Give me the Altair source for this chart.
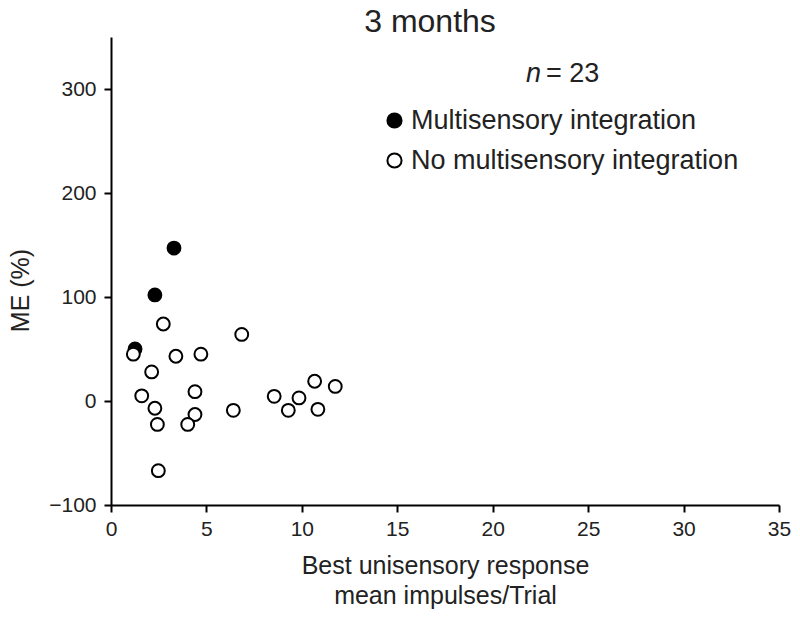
import altair as alt
import pandas as pd

# Data
filled_x = [3.30, 2.30, 1.26]
filled_y = [147, 102, 50]
open_x = [1.17, 2.74, 3.40, 4.71, 6.85, 2.13, 1.61, 4.40, 8.55, 2.30,
          4.40, 6.41, 2.43, 4.02, 2.48, 9.29, 9.85, 10.67, 10.84, 11.75]
open_y = [45, 74, 43, 45, 64, 28, 5, 9, 4.5, -7,
          -13, -9, -22.5, -22.5, -67, -9, 3, 19, -8, 14]
groups = ["Multisensory integration", "No multisensory integration"]
x_ticks = [0, 5, 10, 15, 20, 25, 30, 35]
y_ticks = [-100, 0, 100, 200, 300]

rows = [{"x": a, "y": b, "group": groups[0]} for a, b in zip(filled_x, filled_y)]
rows += [{"x": a, "y": b, "group": groups[1]} for a, b in zip(open_x, open_y)]
df = pd.DataFrame(rows)

FONT = "Liberation Sans"

points = alt.Chart(df).mark_point(
    shape="circle", filled=True, size=165, stroke="black", strokeWidth=2, opacity=1
).encode(
    x=alt.X("x:Q", scale=alt.Scale(domain=[0, 35], nice=False),
            axis=alt.Axis(values=x_ticks, title=["Best unisensory response", "mean impulses/Trial"],
                          titlePadding=14, titleLineHeight=30, labelPadding=6)),
    y=alt.Y("y:Q", scale=alt.Scale(domain=[-100, 350], nice=False),
            axis=alt.Axis(values=y_ticks, title="ME (%)", titleX=-83, titleY=253,
                          titleAngle=270, titleAlign="center", titleBaseline="alphabetic",
                          labelPadding=8)),
    fill=alt.Fill("group:N", scale=alt.Scale(domain=groups, range=["black", "white"]),
                  legend=alt.Legend(title=None, orient="none", legendX=270, legendY=70,
                                    symbolType="circle", symbolSize=200,
                                    symbolStrokeColor="black", symbolStrokeWidth=2,
                                    labelFontSize=27, labelFont=FONT, labelColor="#222",
                                    rowPadding=12, labelOffset=3, padding=0,
                                    labelLimit=500)),
    order=alt.Order("group:N"),
)

n_label = alt.Chart(pd.DataFrame({"t": ["n"]})).mark_text(
    font=FONT, fontSize=27, fontStyle="italic", align="left", baseline="alphabetic", color="#222"
).encode(x=alt.value(415), y=alt.value(45), text="t:N")

n_value = alt.Chart(pd.DataFrame({"t": ["= 23"]})).mark_text(
    font=FONT, fontSize=27, align="left", baseline="alphabetic", color="#222"
).encode(x=alt.value(435), y=alt.value(45), text="t:N")

chart = alt.layer(points, n_label, n_value).properties(
    width=668, height=468,
    title=alt.TitleParams("3 months", fontSize=32, font=FONT, fontWeight="normal",
                          color="#222", dx=-15, offset=-2),
    autosize=alt.AutoSizeParams(type="none"),
    padding={"left": 103, "top": 29, "right": 13, "bottom": 116},
).configure_view(stroke=None).configure_axis(
    grid=False, domainColor="black", domainWidth=2, tickColor="black", tickWidth=2,
    tickSize=7, labelFontSize=21, labelFont=FONT, labelColor="#222", labelFlush=False,
    labelOverlap=False,
    titleFontSize=25, titleFont=FONT, titleFontWeight="normal", titleColor="#222",
)

chart.save("out.html", embed_options={"renderer": "svg", "actions": False})
